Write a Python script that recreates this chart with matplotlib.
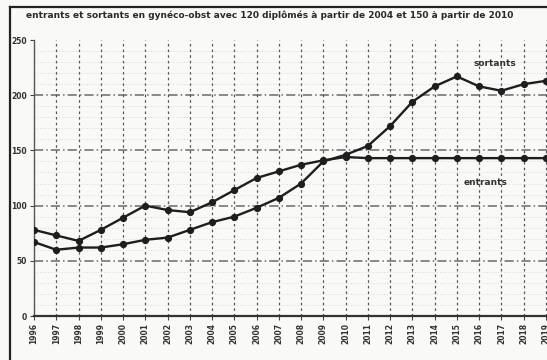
import matplotlib.pyplot as plt
import matplotlib.lines as mlines

# years on the x axis (24 points)
years = [str(y) for y in range(1996, 2020)]

# values
entrants = [78, 73, 68, 78, 89, 100, 96, 94, 103, 114, 125, 131, 137, 141,
            144, 143, 143, 143, 143, 143, 143, 143, 143, 143]
sortants = [67, 60, 62, 62, 65, 69, 71, 78, 85, 90, 98, 107, 120, 140,
            146, 154, 172, 194, 208, 217, 208, 204, 210, 213]

y_ticks = [0, 50, 100, 150, 200, 250]

title = ("entrants et sortants en gynéco-obst avec 120 diplômés "
         "à partir de 2004 et 150 à partir de 2010")

fig = plt.figure(figsize=(5.47, 3.6), dpi=100, facecolor='#f9f9f8')
ax = fig.add_axes([34/547, 1 - 316/360, (547 - 34)/547, (316 - 40)/360])
ax.set_facecolor('#f9f9f8')

x = list(range(len(years)))

# grid
for yv in range(10, 250, 10):
    if yv % 50:
        ax.axhline(yv, color='#bdbdbd', lw=0.5, ls=(0, (1, 3)), zorder=1)
for yv in [50, 100, 150, 200]:
    ax.axhline(yv, color='#6a6a6a', lw=1.1, ls=(0, (6, 2, 1, 2)), zorder=1)
for xv in x[1:]:
    ax.axvline(xv, color='#555555', lw=0.9, ls=(0, (2, 2.5)), zorder=1)

ax.plot(x, entrants, color='#1e1e1e', lw=1.7, marker='o', ms=4.2, zorder=3)
ax.plot(x, sortants, color='#1e1e1e', lw=1.7, marker='o', ms=4.2, zorder=3)

ax.text(20.7, 229, 'sortants', fontsize=6.5, fontweight='bold', color='#333333',
        ha='center', va='center')
ax.text(20.3, 121, 'entrants', fontsize=6.5, fontweight='bold', color='#333333',
        ha='center', va='center')

ax.set_xlim(0, 23.05)
ax.set_ylim(0, 250)
ax.set_xticks(x)
ax.set_xticklabels(years, rotation=90, fontsize=5.5, fontweight='bold', color='#333333')
ax.set_yticks(y_ticks)
ax.set_yticklabels(y_ticks, fontsize=5.5, fontweight='bold', color='#333333')
ax.tick_params(axis='both', length=3, width=0.8, color='#444444', pad=2)

for s in ['top', 'right']:
    ax.spines[s].set_visible(False)
ax.spines['left'].set_color('#555555')
ax.spines['left'].set_linewidth(1.0)
ax.spines['bottom'].set_color('#333333')
ax.spines['bottom'].set_linewidth(1.6)

fig.text(0.493, 1 - 15/360, title, fontsize=6.5, fontweight='bold', color='#2a2a2a',
         ha='center', va='center')

# frame around the figure (left and top edges visible)
fig.add_artist(mlines.Line2D([10/547, 10/547], [0, 1 - 7/360], color='#222222', lw=1.6))
fig.add_artist(mlines.Line2D([10/547, 1], [1 - 7/360, 1 - 7/360], color='#222222', lw=1.6))

fig.savefig('out.png', dpi=100, facecolor=fig.get_facecolor())
